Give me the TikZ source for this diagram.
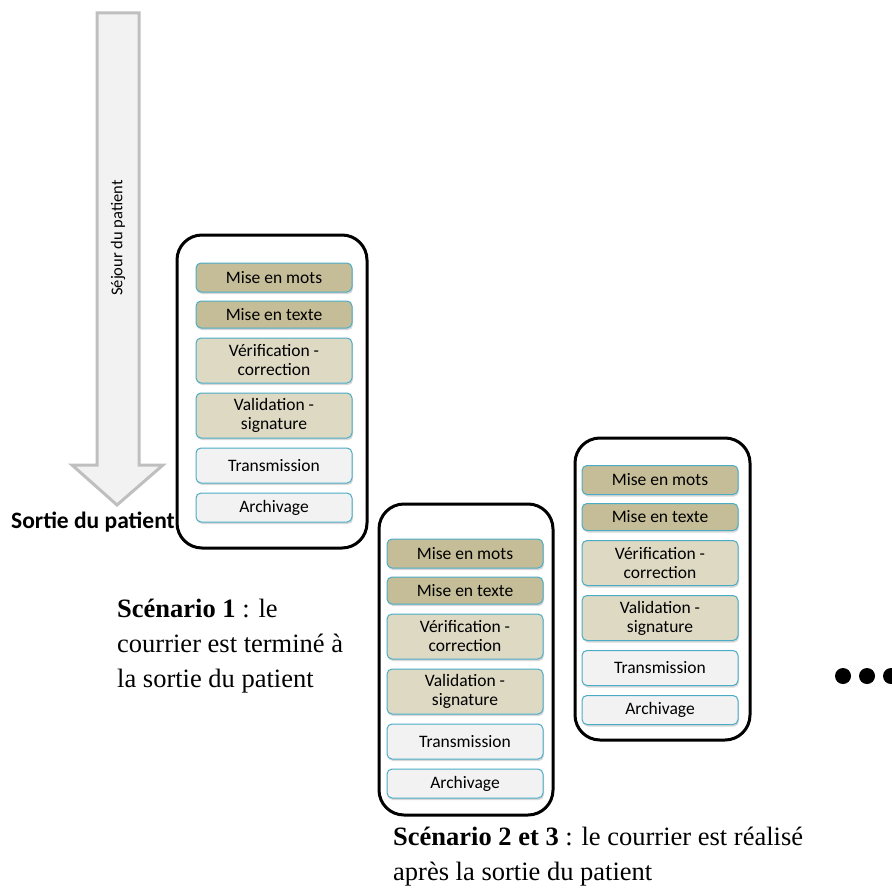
\documentclass[tikz,border=0pt]{standalone}
\usepackage{fontspec}
\setmainfont{Liberation Serif}
\newfontfamily\calibri{Carlito}
\usetikzlibrary{shadows}
\definecolor{CrKakiFonce}{RGB}{196,189,151}
\definecolor{CrKakiClair}{RGB}{221,217,195}
\definecolor{CrGris}{RGB}{242,242,242}
\definecolor{CrBleu}{RGB}{75,172,198}
\definecolor{CrFlecheBord}{RGB}{191,191,191}
\tikzset{
  cr/etape/.style={
    draw=CrBleu,
    line width=1pt,
    rounded corners=5pt,
    minimum width=156,
    inner sep=0pt,
    align=center,
    font=\calibri\fontsize{17.5}{19}\selectfont,
    drop shadow={shadow xshift=1pt, shadow yshift=-2pt, opacity=0.3}
  },
  cr/cadre/.style={
    draw=black,
    line width=3pt,
    rounded corners=25pt,
    inner sep=0pt,
    fill=white
  },
  cr/fleche/.style={draw=CrFlecheBord, line width=3pt, fill=CrGris, line join=miter},
  cr/legende/.style={font=\fontsize{26.5}{35}\selectfont, align=left, anchor=base west, inner sep=0pt},
  cr/point/.style={fill=black}
}

\begin{document}
\begin{tikzpicture}[x=1pt,y=-1pt]
  \useasboundingbox (0,0) rectangle (891,896);

  % sejour du patient
  \draw[cr/fleche] (97,13) -- (139,13) -- (139,465) -- (163,465) -- (117,505)
    -- (72,465) -- (97,465) -- cycle;
  \node[rotate=90, font=\calibri\fontsize{16.5}{18}\selectfont] (sejour) at (118,238) {Séjour du patient};
  \node[anchor=east, inner sep=0pt, font=\calibri\bfseries\fontsize{23.5}{25}\selectfont] (sortie) at (175,522) {Sortie du patient};

  % cadres des scenarios
  \node[cr/cadre, minimum width=190, minimum height=313] (cadre1) at (272,391.5) {};
  \node[cr/cadre, minimum width=174, minimum height=311] (cadre2) at (466,659.5) {};
  \node[cr/cadre, minimum width=175, minimum height=302] (cadre3) at (662.5,589) {};

  % etapes du courrier
  \foreach \n/\dx/\dy in {1/0/0, 2/191/276, 3/386/202.5}{
    \foreach \nom/\col/\txt/\yc/\h in {
      mots/CrKakiFonce/Mise en mots/277.5/29,
      texte/CrKakiFonce/Mise en texte/314.5/27,
      verif/CrKakiClair/Vérification -\\correction/360.5/45,
      valid/CrKakiClair/Validation -\\signature/415.5/45,
      trans/CrGris/Transmission/465.5/35,
      archi/CrGris/Archivage/507.5/29}
    {\node[cr/etape, fill=\col, minimum height=\h] (\nom\n) at (274+\dx,\yc+\dy) {\txt};}
  }

  % legendes (ancre sur la derniere ligne)
  \node[cr/legende] (legende1) at (117,687) {\textbf{Scénario 1} : le\\courrier est terminé à\\la sortie du patient};
  \node[cr/legende] (legende2) at (393,880) {\textbf{Scénario 2 et 3} : le courrier est réalisé\\après la sortie du patient};

  \foreach \x in {843,867,891}
    \fill[cr/point] (\x,676) circle (8);
\end{tikzpicture}
\end{document}
